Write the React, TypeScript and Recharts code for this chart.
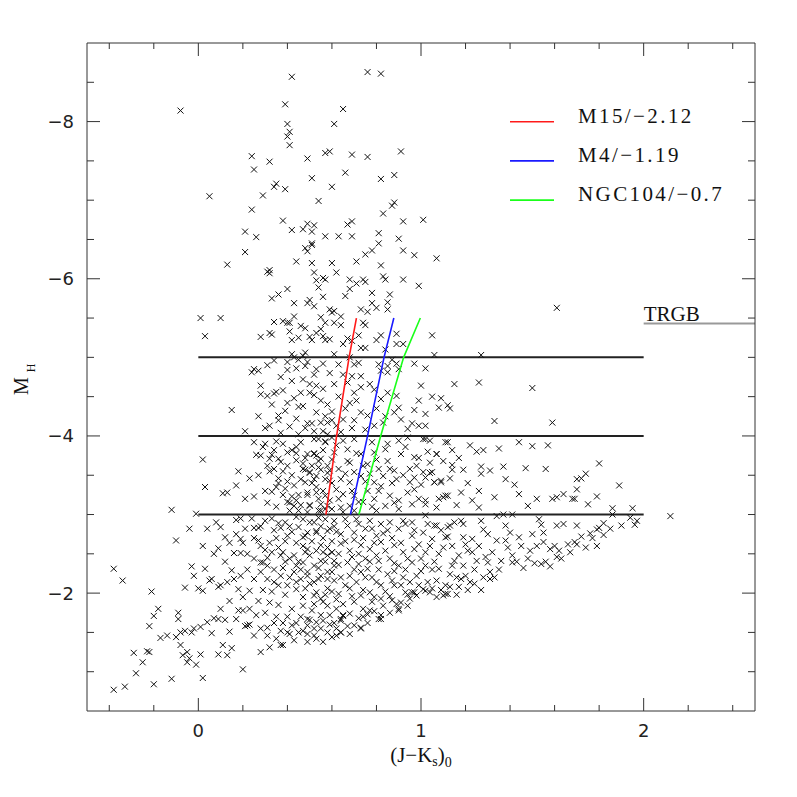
import { ScatterChart, Scatter, XAxis, YAxis, ReferenceLine } from "recharts";

// colour-magnitude data, [ (J-Ks)0 , M_H ]
const upperStars: [number, number][] = [
  [0.42,-8.57],[0.39,-8.22],[-0.08,-8.14],[0.40,-7.97],[0.41,-7.87],[0.40,-7.81],[0.41,-7.70],[0.61,-7.97],[0.24,-7.56],[0.32,-7.49],
  [0.49,-7.53],[0.25,-7.39],[0.57,-7.60],[0.59,-7.62],[0.51,-7.28],[0.05,-7.05],[0.29,-7.06],[0.34,-7.17],[0.35,-7.21],[0.39,-7.14],
  [0.60,-7.17],[0.54,-6.99],[0.24,-6.88],[0.38,-6.74],[0.42,-6.62],[0.47,-6.63],[0.49,-6.70],[0.51,-6.60],[0.52,-6.68],[0.57,-6.54],
  [0.21,-6.60],[0.26,-6.53],[0.21,-6.34],[0.13,-6.18],[0.48,-6.39],[0.49,-6.35],[0.51,-6.43],[0.51,-6.45],[0.44,-6.22],[0.51,-6.20],
  [0.60,-6.20],[0.31,-6.09],[0.32,-6.11],[0.32,-6.07],[0.52,-6.08],[0.53,-5.98],[0.56,-6.01],[0.57,-5.99],[0.54,-5.89],[0.40,-5.87],
  [0.33,-5.75],[0.36,-5.80],[0.43,-5.69],[0.49,-5.69],[0.50,-5.73],[0.52,-5.65],[0.56,-5.77],[0.59,-5.61],[0.61,-5.59],[0.60,-5.57],
  [0.01,-5.50],[0.10,-5.50],[0.03,-5.27],[0.34,-5.45],[0.38,-5.46],[0.40,-5.44],[0.41,-5.44],[0.43,-5.52],[0.46,-5.40],[0.48,-5.37],
  [0.55,-5.51],[0.57,-5.44],[0.61,-5.44],[0.28,-5.26],[0.32,-5.31],[0.33,-5.29],[0.41,-5.33],[0.42,-5.22],[0.45,-5.25],[0.50,-5.26],
  [0.51,-5.22],[0.53,-5.31],[0.55,-5.36],[0.56,-5.27],[0.57,-5.22],[0.59,-5.23],[0.61,-5.04],[0.42,-5.04],[0.43,-5.00],[0.45,-4.97],
  [0.47,-5.02],[0.48,-5.06],
  [0.76,-8.63],[0.82,-8.61],[0.65,-8.16],[0.69,-7.58],[0.76,-7.55],[0.91,-7.62],[0.66,-7.35],[0.82,-7.27],[0.88,-7.32],[0.88,-6.97],
  [0.87,-6.93],[0.83,-6.83],[0.67,-6.69],[0.69,-6.73],[0.92,-6.73],[1.01,-6.75],[0.63,-6.54],[0.69,-6.54],[0.81,-6.58],[0.90,-6.51],
  [0.81,-6.45],[0.78,-6.36],[0.75,-6.31],[0.71,-6.22],[0.92,-6.36],[0.97,-6.30],[1.07,-6.26],[0.62,-6.08],[0.82,-6.17],[0.83,-6.03],
  [0.84,-5.99],[0.68,-5.99],[0.71,-5.94],[0.74,-5.99],[0.75,-5.96],[0.68,-5.87],[0.92,-5.99],[0.99,-5.91],[0.66,-5.78],[0.78,-5.82],
  [0.86,-5.80],[0.64,-5.52],[0.64,-5.41],[0.73,-5.61],[0.76,-5.58],[0.78,-5.69],[0.80,-5.63],[0.85,-5.61],[0.85,-5.70],[0.74,-5.44],
  [0.75,-5.41],[0.67,-5.24],[0.65,-5.17],[0.72,-5.28],[0.69,-5.21],[0.73,-5.12],[0.75,-5.12],[0.82,-5.28],[0.80,-5.22],[0.84,-5.10],
  [0.89,-5.30],[0.89,-5.17],[0.92,-5.17],[1.05,-5.28],[0.68,-5.00],[1.06,-5.03],[1.27,-5.03],[1.61,-5.63],
];

const agbStars: [number, number][] = [
  [0.34,-4.96],[0.40,-4.94],[0.49,-4.94],[0.48,-4.89],[0.24,-4.81],[0.25,-4.85],[0.27,-4.83],[0.40,-4.84],[0.52,-4.78],[0.53,-4.85],
  [0.63,-4.91],[0.70,-4.91],[0.72,-4.93],[0.81,-4.91],[0.82,-4.83],[0.85,-4.89],[0.87,-4.97],[0.89,-4.92],[0.97,-4.92],[1.02,-4.86],
  [0.90,-4.85],[0.65,-4.78],[0.69,-4.76],[0.73,-4.76],[0.85,-4.81],
  [0.28,-4.64],[0.28,-4.53],[0.31,-4.51],[0.34,-4.54],[0.35,-4.56],[0.50,-4.66],[0.53,-4.64],[0.50,-4.55],[0.55,-4.45],[0.45,-4.37],
  [0.60,-4.31],[0.15,-4.33],[0.36,-4.26],[0.36,-4.20],[0.32,-4.13],[0.37,-4.04],[0.21,-4.06],[0.49,-4.16],[0.51,-4.16],[0.55,-4.17],
  [0.58,-4.17],[0.60,-4.20],[0.52,-4.06],[0.56,-4.06],
  [1.00,-4.64],[1.15,-4.66],[1.26,-4.68],[1.50,-4.61],[1.33,-4.19],[1.59,-4.17],[1.05,-4.50],[1.09,-4.48],[1.12,-4.39],[1.13,-4.35],
  [1.08,-4.36],[0.99,-4.45],[1.02,-4.28],[0.97,-4.33],[0.99,-4.13],[0.96,-4.16],[1.02,-4.13],
  [0.61,-4.66],[0.67,-4.68],[0.70,-4.55],[0.73,-4.62],[0.77,-4.66],[0.79,-4.59],[0.82,-4.47],[0.85,-4.55],[0.89,-4.51],[0.90,-4.36],
  [0.88,-4.30],[0.68,-4.42],[0.73,-4.30],[0.76,-4.26],[0.79,-4.13],[0.65,-4.21],[0.62,-4.13],[0.83,-4.17],[0.91,-4.21],[0.94,-4.09],
  [0.42,-4.70],[0.46,-4.55],[0.40,-4.42],[0.56,-4.60],[0.58,-4.40],[0.44,-4.22],[0.53,-4.30],[0.48,-4.10],[0.38,-4.58],
  [0.31,-4.90],[0.37,-4.75],[0.44,-4.86],[0.47,-4.72],[0.56,-4.92],[0.59,-4.80],[0.33,-4.40],[0.39,-4.32],[0.43,-4.48],[0.47,-4.38],
  [0.52,-4.52],[0.57,-4.25],[0.63,-4.50],[0.66,-4.35],[0.70,-4.20],[0.71,-4.45],[0.64,-4.05],[0.69,-4.10],[0.75,-4.08],[0.80,-4.35],
  [0.84,-4.25],[0.27,-4.25],[0.30,-4.10],[0.41,-4.12],[0.45,-4.02],[0.58,-4.02],
];

const midStars: [number, number][] = [
  [0.25,-3.92],[0.35,-3.93],[0.38,-3.90],[0.42,-3.82],[0.44,-3.86],[0.40,-3.79],[0.54,-3.96],[0.57,-3.93],[0.60,-3.98],[0.02,-3.70],
  [0.26,-3.76],[0.28,-3.75],[0.33,-3.76],[0.32,-3.71],[0.36,-3.71],[0.31,-3.62],[0.37,-3.67],[0.40,-3.62],[0.44,-3.69],[0.48,-3.72],
  [0.52,-3.78],[0.53,-3.75],[0.56,-3.82],[0.54,-3.68],[0.48,-3.57],[0.50,-3.53],[0.53,-3.49],[0.55,-3.57],[0.58,-3.53],[0.51,-3.40],
  [0.57,-3.45],[0.60,-3.40],[0.03,-3.35],[0.11,-3.27],[0.13,-3.28],[0.17,-3.37],[0.23,-3.46],[0.25,-3.23],[0.33,-3.29],[0.35,-3.35],
  [0.36,-3.46],[0.40,-3.42],[0.43,-3.37],[0.45,-3.25],[0.49,-3.25],[0.42,-3.23],[0.31,-3.15],[0.35,-3.10],[0.40,-3.16],[0.41,-3.15],
  [0.43,-3.11],[0.46,-3.12],[0.50,-3.12],[0.54,-3.20],[0.58,-3.11],[0.55,-3.05],[0.60,-3.07],[-0.12,-3.06],[-0.01,-3.01],
  [0.94,-3.98],[1.02,-3.96],[1.04,-3.94],[1.12,-3.92],[1.25,-3.80],[1.28,-3.82],[1.35,-3.84],[1.44,-3.92],[1.50,-3.87],[1.57,-3.88],
  [1.14,-3.82],[1.07,-3.77],[0.99,-3.72],[1.17,-3.72],[1.04,-3.66],[1.14,-3.63],[1.27,-3.61],[1.37,-3.61],[1.47,-3.59],[1.56,-3.58],
  [1.14,-3.57],[1.19,-3.57],[1.27,-3.52],[1.38,-3.45],[1.04,-3.53],[1.02,-3.47],[1.06,-3.41],[1.09,-3.43],[1.12,-3.24],[1.10,-3.22],
  [1.18,-3.28],[1.26,-3.30],[1.26,-3.09],[1.44,-3.26],[1.52,-3.20],[1.48,-3.11],[1.59,-3.20],[1.61,-3.22],[1.64,-3.26],[1.69,-3.20],
  [1.70,-3.32],[1.70,-3.45],[1.02,-3.13],[1.07,-3.09],
  [1.80,-3.65],[1.72,-3.46],[1.74,-3.52],[1.89,-3.37],[1.68,-3.20],[1.75,-3.13],[1.79,-3.23],[1.86,-3.08],[1.95,-3.08],
  [0.52,-3.96],[0.57,-3.92],[0.65,-3.94],[0.70,-3.96],[0.78,-3.92],[0.85,-3.90],[0.90,-3.94],[1.01,-3.96],[1.11,-3.92],[0.49,-3.77],
  [0.52,-3.77],[0.55,-3.71],[0.61,-3.79],[0.67,-3.83],[0.73,-3.77],[0.79,-3.79],[0.85,-3.68],[0.91,-3.77],[0.97,-3.73],[1.07,-3.77],
  [1.10,-3.68],[0.47,-3.58],[0.50,-3.54],[0.54,-3.60],[0.58,-3.62],[0.63,-3.58],[0.68,-3.66],[0.70,-3.54],[0.76,-3.64],[0.81,-3.58],
  [0.88,-3.56],[0.95,-3.58],[1.01,-3.54],[1.05,-3.54],[0.48,-3.41],[0.52,-3.45],[0.59,-3.43],[0.64,-3.45],[0.68,-3.41],[0.73,-3.49],
  [0.79,-3.41],[0.83,-3.49],[0.89,-3.45],[0.95,-3.41],[0.97,-3.47],[1.06,-3.41],[1.09,-3.41],[0.49,-3.28],[0.53,-3.28],[0.57,-3.24],
  [0.62,-3.32],[0.65,-3.26],[0.70,-3.24],[0.76,-3.30],[0.81,-3.30],[0.86,-3.24],[0.90,-3.18],[0.97,-3.32],[1.02,-3.18],[1.08,-3.20],
  [1.11,-3.24],[0.50,-3.11],[0.55,-3.13],[0.59,-3.18],[0.64,-3.09],[0.68,-3.11],[0.74,-3.16],[0.79,-3.20],[0.84,-3.11],[0.90,-3.07],
  [0.96,-3.13],[0.49,-3.03],[0.54,-3.05],[0.57,-3.07],[0.65,-3.03],[0.70,-3.05],[0.80,-3.05],
  [0.30,-3.90],[0.34,-3.82],[0.38,-3.55],[0.42,-3.50],[0.46,-3.45],[0.44,-3.78],[0.34,-3.58],[0.30,-3.30],[0.38,-3.25],[0.45,-3.05],
  [0.29,-3.86],[0.32,-3.55],[0.36,-3.40],[0.39,-3.33],[0.41,-3.05],[0.44,-3.18],[0.46,-3.92],[0.47,-3.65],[0.51,-3.62],[0.53,-3.35],
  [0.56,-3.30],[0.59,-3.56],[0.60,-3.70],[0.62,-3.88],[0.63,-3.20],[0.66,-3.52],[0.67,-3.68],[0.69,-3.30],[0.71,-3.78],[0.72,-3.16],
  [0.74,-3.62],[0.75,-3.42],[0.77,-3.52],[0.78,-3.10],[0.80,-3.70],[0.82,-3.36],[0.84,-3.83],[0.86,-3.58],[0.87,-3.40],[0.88,-3.15],
  [0.92,-3.50],[0.93,-3.86],[0.94,-3.28],[0.98,-3.62],[0.99,-3.20],[1.00,-3.38],[1.03,-3.80],[1.13,-3.46],[1.16,-3.12],[1.21,-3.40],
  [1.23,-3.18],[1.31,-3.56],[1.33,-3.22],[1.42,-3.38],[1.22,-3.88],[0.27,-3.50],[0.21,-3.20],[0.18,-3.55],
];

const lowerStars: [number, number][] = [
  [-0.04,-2.82],[0.04,-2.82],[0.10,-2.84],[0.17,-2.93],[0.19,-2.95],[0.21,-2.82],[0.25,-2.83],[0.27,-2.83],[0.28,-2.85],[0.36,-2.89],
  [0.37,-2.83],[0.41,-2.85],[-0.10,-2.67],[0.09,-2.57],[0.12,-2.71],[0.14,-2.64],[0.19,-2.69],[0.20,-2.64],[0.27,-2.67],[0.28,-2.60],
  [0.32,-2.64],[0.40,-2.73],[0.44,-2.64],[0.47,-2.71],[0.49,-2.77],[0.53,-2.79],[0.55,-2.85],[0.58,-2.79],[0.61,-2.85],[0.16,-2.51],
  [0.19,-2.51],[0.22,-2.50],[0.25,-2.44],[0.28,-2.39],[0.33,-2.52],[0.37,-2.48],[0.38,-2.52],[0.41,-2.44],[0.44,-2.35],[0.48,-2.52],
  [0.50,-2.48],[0.53,-2.54],[0.56,-2.52],[0.60,-2.52],[0.55,-2.41],[0.61,-2.35],[-0.38,-2.31],[-0.34,-2.16],[-0.03,-2.34],[-0.02,-2.22],
  [0.03,-2.31],[0.06,-2.18],[0.05,-2.16],[0.09,-2.08],[0.10,-2.10],[0.13,-2.14],[0.15,-2.29],[0.16,-2.18],[0.19,-2.22],[0.23,-2.03],
  [0.25,-2.18],[0.28,-2.27],[0.29,-2.39],[0.31,-2.18],[0.34,-2.14],[0.37,-2.22],[0.40,-2.10],[0.43,-2.27],[0.46,-2.18],[0.49,-2.27],
  [0.52,-2.14],[0.55,-2.22],[0.58,-2.18],[0.60,-2.27],[0.53,-2.01],[0.55,-1.93],[0.58,-1.84],[-0.21,-2.02],[-0.18,-1.80],[-0.20,-1.71],
  [-0.22,-1.58],[-0.09,-1.75],[-0.09,-1.67],[-0.06,-2.07],[0.00,-2.06],[0.02,-2.03],[-0.17,-1.43],[-0.14,-1.46],[-0.10,-1.44],[-0.08,-1.50],
  [-0.06,-1.52],[-0.03,-1.50],[-0.02,-1.55],[0.01,-1.57],[0.04,-1.63],[0.06,-1.49],[0.07,-1.68],[0.09,-1.67],[0.10,-1.80],[0.12,-1.66],
  [0.14,-1.51],[0.17,-1.67],[0.18,-1.78],[0.20,-1.78],[0.21,-1.58],[0.22,-1.59],[0.23,-1.60],[0.25,-1.46],[0.28,-1.55],[0.31,-1.46],
  [0.35,-1.42],[0.37,-1.34],[0.40,-1.50],[0.42,-1.59],[0.45,-1.50],[0.49,-1.59],[0.52,-1.46],[0.55,-1.55],[0.60,-1.44],[0.49,-1.38],
  [0.38,-1.34],[0.28,-1.25],[0.32,-1.31],[-0.29,-1.24],[-0.23,-1.26],[-0.22,-1.25],[-0.25,-1.12],[-0.28,-0.98],[-0.33,-0.81],[-0.38,-0.77],
  [-0.20,-0.84],[-0.12,-0.91],[-0.08,-1.34],[-0.05,-1.25],[-0.07,-1.21],[-0.04,-1.17],[-0.01,-1.09],[0.01,-1.22],[-0.05,-1.12],[0.02,-0.92],
  [0.09,-1.22],[0.13,-1.21],[0.11,-1.34],[0.15,-1.30],[0.20,-1.03],
  [1.07,-2.86],[1.12,-2.84],[1.13,-2.86],[1.18,-2.92],[1.19,-2.88],[1.27,-2.92],[1.28,-2.81],[1.34,-2.98],[1.37,-3.00],[1.41,-3.00],
  [1.38,-2.86],[1.40,-2.77],[1.53,-2.94],[1.54,-2.87],[1.55,-2.77],[1.50,-2.75],[1.61,-2.86],[1.64,-2.88],[1.70,-2.86],[1.12,-2.72],
  [1.19,-2.71],[1.23,-2.69],[1.30,-2.75],[1.34,-2.67],[1.38,-2.67],[1.44,-2.71],[1.45,-2.60],[1.49,-2.54],[1.52,-2.60],[1.55,-2.65],
  [1.58,-2.56],[1.60,-2.60],[1.62,-2.54],[1.61,-2.46],[1.67,-2.52],[1.69,-2.65],[1.54,-2.37],[1.56,-2.40],[1.41,-2.48],[1.41,-2.39],
  [1.36,-2.41],[1.30,-2.39],[1.29,-2.46],[1.31,-2.27],[1.25,-2.41],[1.23,-2.52],[1.21,-2.54],[1.17,-2.48],[1.15,-2.41],[1.14,-2.35],
  [1.19,-2.35],[1.20,-2.22],[1.18,-2.18],[1.22,-2.14],[1.17,-2.08],[1.13,-2.08],[1.10,-1.97],[1.07,-1.95],[1.12,-1.99],[1.04,-2.01],
  [1.01,-2.05],[0.98,-1.97],[0.95,-1.93],[0.96,-2.01],[0.94,-1.84],[0.90,-1.80],[0.91,-1.88],[0.86,-1.75],[0.81,-1.67],[0.79,-1.77],
  [0.76,-1.73],[0.74,-1.70],[0.73,-1.56],[0.70,-1.59],[0.64,-1.50],[0.62,-1.46],[0.64,-1.67],[0.65,-1.71],[1.31,-2.18],[1.33,-2.20],
  [1.72,-2.72],[1.76,-2.76],[1.79,-2.81],[1.80,-2.83],[1.82,-2.89],[1.82,-2.74],[1.79,-2.60],[1.94,-2.96],[1.97,-2.92],[1.96,-2.87],
  [2.12,-2.98],[1.70,-2.62],
  [0.47,-2.94],[0.52,-2.90],[0.57,-2.94],[0.61,-2.92],[0.67,-2.86],[0.71,-2.94],[0.77,-2.92],[0.82,-2.88],[0.86,-2.90],[0.92,-2.92],
  [0.96,-2.90],[1.02,-2.99],[1.06,-2.86],[1.11,-2.71],[0.48,-2.73],[0.53,-2.77],[0.59,-2.82],[0.64,-2.75],[0.70,-2.77],[0.75,-2.82],
  [0.80,-2.73],[0.85,-2.80],[0.90,-2.82],[0.96,-2.73],[1.01,-2.77],[1.05,-2.69],[0.49,-2.56],[0.55,-2.61],[0.60,-2.52],[0.64,-2.63],
  [0.68,-2.54],[0.73,-2.61],[0.77,-2.56],[0.82,-2.65],[0.88,-2.61],[0.92,-2.52],[0.97,-2.56],[1.02,-2.52],[1.08,-2.50],[0.47,-2.39],
  [0.52,-2.35],[0.58,-2.48],[0.61,-2.41],[0.67,-2.39],[0.72,-2.37],[0.76,-2.31],[0.81,-2.41],[0.86,-2.44],[0.90,-2.35],[0.96,-2.39],
  [1.02,-2.35],[0.49,-2.22],[0.54,-2.18],[0.58,-2.27],[0.64,-2.20],[0.68,-2.22],[0.73,-2.27],[0.78,-2.20],[0.82,-2.10],[0.87,-2.16],
  [0.92,-2.20],[0.98,-2.22],[1.08,-2.31],[1.11,-2.10],[0.48,-2.06],[0.52,-1.97],[0.58,-2.06],[0.63,-1.99],[0.68,-2.06],[0.73,-1.97],
  [0.77,-2.01],[0.82,-1.93],[0.88,-2.10],[0.93,-2.01],[0.97,-2.01],[1.02,-2.03],[1.05,-2.06],[1.11,-1.99],[0.47,-1.84],[0.52,-1.86],
  [0.56,-1.89],[0.62,-1.80],[0.65,-1.72],[0.70,-1.89],[0.74,-1.80],[0.78,-1.89],[0.82,-1.67],[0.87,-1.91],[0.90,-1.78],[0.49,-1.67],
  [0.53,-1.63],[0.59,-1.72],[0.64,-1.65],[0.68,-1.74],[0.73,-1.55],[0.77,-1.78],[0.82,-1.72],[0.52,-1.55],[0.56,-1.65],[0.64,-1.50],
  [0.49,-1.48],[0.62,-1.55],
  [0.33,-2.95],[0.39,-2.90],[0.44,-2.97],[0.35,-2.70],[0.42,-2.78],[0.30,-2.55],[0.36,-2.58],[0.43,-2.48],[0.31,-2.35],[0.38,-2.32],
  [0.45,-2.40],[0.33,-2.02],[0.39,-1.98],[0.44,-2.05],[0.36,-1.85],[0.42,-1.80],[0.30,-1.75],[0.46,-1.70],[0.34,-1.62],[0.40,-1.70],
  [0.27,-1.90],[0.25,-2.70],[0.22,-2.30],[0.20,-1.95],[0.26,-1.72],[0.43,-1.40],[0.56,-1.38],
];

// faint, crowded core of the red giant branch
const coreStars: [number, number][] = [
  [0.30,-2.92],[0.34,-2.80],[0.39,-2.66],[0.45,-2.84],[0.47,-2.60],[0.50,-2.90],[0.51,-2.66],[0.54,-2.96],[0.56,-2.70],[0.58,-2.58],
  [0.60,-2.66],[0.62,-2.78],[0.63,-2.50],[0.66,-2.94],[0.66,-2.66],[0.69,-2.46],[0.70,-2.68],[0.72,-2.88],[0.72,-2.50],[0.74,-2.70],
  [0.75,-2.44],[0.78,-2.82],[0.79,-2.64],[0.80,-2.48],[0.83,-2.76],[0.84,-2.54],[0.87,-2.70],[0.88,-2.38],[0.91,-2.64],[0.93,-2.88],
  [0.94,-2.44],[0.97,-2.80],[0.99,-2.62],[1.00,-2.44],[1.03,-2.88],[1.04,-2.60],[1.06,-2.40],[1.09,-2.80],[1.10,-2.58],[1.14,-2.60],
  [1.15,-2.90],[1.16,-2.20],[1.20,-2.62],[1.24,-2.30],[1.26,-2.60],[1.28,-2.20],[1.32,-2.52],[1.35,-2.30],[1.39,-2.58],[1.43,-2.40],
  [1.46,-2.32],[1.48,-2.44],[1.51,-2.38],[1.58,-2.34],[1.63,-2.44],[1.66,-2.62],[1.74,-2.58],[1.77,-2.70],[1.85,-2.82],[1.90,-2.86],
  [1.86,-3.00],[0.31,-2.45],[0.34,-2.30],[0.36,-2.10],[0.39,-2.40],[0.41,-2.20],[0.44,-2.14],[0.46,-2.30],[0.47,-1.95],[0.50,-2.12],
  [0.51,-1.78],[0.54,-2.32],[0.55,-1.72],[0.57,-2.40],[0.57,-1.98],[0.59,-1.60],[0.60,-2.02],[0.61,-2.16],[0.62,-1.92],[0.63,-2.36],
  [0.65,-1.86],[0.66,-2.10],[0.67,-1.58],[0.69,-1.96],[0.70,-2.30],[0.71,-2.14],[0.72,-1.68],[0.74,-2.04],[0.75,-2.20],[0.76,-1.62],
  [0.77,-2.40],[0.79,-1.95],[0.80,-2.14],[0.81,-2.30],[0.83,-1.84],[0.84,-2.02],[0.85,-2.24],[0.86,-1.96],[0.88,-2.28],[0.89,-1.86],
  [0.91,-2.10],[0.93,-2.30],[0.94,-1.98],[0.95,-2.14],[0.99,-2.10],[1.00,-2.28],[1.03,-2.14],[1.05,-2.30],[1.07,-2.16],[1.09,-2.04],
  [1.13,-2.24],[1.16,-1.98],[1.21,-2.04],[1.24,-2.12],[1.27,-2.04],[0.29,-2.04],[0.32,-1.88],[0.35,-1.70],[0.38,-1.62],[0.41,-1.48],
  [0.44,-1.62],[0.47,-1.52],[0.50,-1.66],[0.53,-1.42],[0.58,-1.50],[0.61,-1.62],[0.68,-1.48],[0.23,-1.80],[0.18,-2.05],[0.14,-1.90],
  [0.12,-2.40],[0.07,-2.50],[0.02,-2.60],[0.08,-2.90],[0.24,-2.95],[0.17,-2.75],[0.31,-1.56],[0.37,-1.52],
];

// isochrone ridge lines, [ colour , M_H ]
const m15Track: [number, number][] = [[0.573,-3],[0.621,-4],[0.677,-5],[0.71,-5.5]];
const m4Track: [number, number][] = [[0.683,-3],[0.76,-4],[0.834,-5],[0.878,-5.5]];
const ngc104Track: [number, number][] = [[0.721,-3],[0.819,-4],[0.922,-5],[0.997,-5.5]];
const trackNames = ["M15/\u22122.12", "M4/\u22121.19", "NGC104/\u22120.7"];
const trackColors = ["#ff1a1a", "#1a1aff", "#1aff1a"];

const cutLevels = [-5, -4, -3];
const trgbLevel = -5.43;

const xTicks = [-0.4,-0.2,0,0.2,0.4,0.6,0.8,1,1.2,1.4,1.6,1.8,2,2.2,2.4];
const yTicks = [-8.5,-8,-7.5,-7,-6.5,-6,-5.5,-5,-4.5,-4,-3.5,-3,-2.5,-2,-1.5,-1];
const xLabelled = [0, 1, 2];
const yLabelled = [-8, -6, -4, -2];

const stars = [...upperStars, ...agbStars, ...midStars, ...lowerStars, ...coreStars].map(([jk, mh]) => ({ jk, mh }));
const tracks = [m15Track, m4Track, ngc104Track].map((t, i) => ({
  name: trackNames[i],
  color: trackColors[i],
  data: t.map(([jk, mh]) => ({ jk, mh })),
}));

const AXIS = "#333";
const numFont = "'DejaVu Sans', sans-serif";
const serif = "'Liberation Serif', serif";
const fmt = (v: number) => (v < 0 ? "\u2212" + Math.abs(v) : String(v));
const isIn = (list: number[], v: number) => list.some((l) => Math.abs(l - v) < 1e-6);

const Cross = (props: any) => {
  const { cx, cy } = props;
  if (cx == null || cy == null) return <g />;
  return (
    <path
      d={`M${cx - 3},${cy - 3}L${cx + 3},${cy + 3}M${cx - 3},${cy + 3}L${cx + 3},${cy - 3}`}
      stroke="#111"
      strokeWidth={1}
      fill="none"
    />
  );
};

const BottomTick = ({ x, y, payload }: any) => {
  const major = isIn(xLabelled, payload.value);
  return (
    <g>
      <line x1={x} y1={y} x2={x} y2={y - (major ? 13 : 6)} stroke={AXIS} />
      {major && (
        <text x={x} y={y + 26} textAnchor="middle" fontSize={18} fontFamily={numFont} fill="#222">
          {fmt(payload.value)}
        </text>
      )}
    </g>
  );
};

const TopTick = ({ x, y, payload }: any) => {
  const major = isIn(xLabelled, payload.value);
  return <line x1={x} y1={y} x2={x} y2={y + (major ? 13 : 6)} stroke={AXIS} />;
};

const LeftTick = ({ x, y, payload }: any) => {
  const major = isIn(yLabelled, payload.value);
  return (
    <g>
      <line x1={x} y1={y} x2={x + (major ? 13 : 7)} y2={y} stroke={AXIS} />
      {major && (
        <text x={x - 13} y={y} dy="0.36em" textAnchor="end" fontSize={18} fontFamily={numFont} fill="#222">
          {fmt(payload.value)}
        </text>
      )}
    </g>
  );
};

const RightTick = ({ x, y, payload }: any) => {
  const major = isIn(yLabelled, payload.value);
  return <line x1={x} y1={y} x2={x - (major ? 13 : 7)} y2={y} stroke={AXIS} />;
};

const XTitle = ({ viewBox }: any) => {
  const cx = viewBox.x + viewBox.width / 2;
  return (
    <text x={cx} y={viewBox.y + 51} textAnchor="middle" fontSize={21} fontFamily={serif} fill="#111">
      <tspan>(J{"\u2212"}K</tspan>
      <tspan fontSize={14} dy={4}>s</tspan>
      <tspan dy={-4}>)</tspan>
      <tspan fontSize={14} dy={5}>0</tspan>
    </text>
  );
};

const YTitle = ({ viewBox }: any) => {
  const cy = viewBox.y + viewBox.height / 2 + 9;
  const bx = 28;
  return (
    <g fontFamily={serif} fill="#111">
      <text x={bx} y={cy} transform={`rotate(-90 ${bx} ${cy})`} textAnchor="middle" fontSize={20}>M</text>
      <text x={bx + 7} y={cy - 18} transform={`rotate(-90 ${bx + 7} ${cy - 18})`} textAnchor="middle" fontSize={12}>H</text>
    </g>
  );
};

const TrgbLabel = ({ viewBox }: any) => (
  <text x={viewBox.x} y={viewBox.y - 3} fontSize={21} fontFamily={serif} fill="#111">TRGB</text>
);

const TrackLegend = () => (
  <g fontFamily={serif} fontSize={21} fill="#111">
    {tracks.map((t, i) => (
      <g key={t.name}>
        <line x1={510} x2={554} y1={121.7 + i * 39.2} y2={121.7 + i * 39.2} stroke={t.color} strokeWidth={1.6} />
        <text x={578} y={123 + i * 39.2} letterSpacing={2.4}>{t.name}</text>
      </g>
    ))}
  </g>
);

export default function App() {
  return (
    <div style={{ position: "absolute", left: 0, top: 0, width: 797, height: 797, background: "#fff" }}>
      <ScatterChart width={797} height={797} margin={{ top: 33, right: 32, bottom: 56, left: 27 }}>
        <XAxis
          xAxisId="b" type="number" dataKey="jk" domain={[-0.5, 2.5]} ticks={xTicks} interval={0}
          allowDataOverflow tickSize={0} tickMargin={0} tickLine={false} height={30}
          axisLine={{ stroke: AXIS }} tick={<BottomTick />} label={<XTitle />}
        />
        <XAxis
          xAxisId="t" orientation="top" type="number" dataKey="jk" domain={[-0.5, 2.5]} ticks={xTicks} interval={0}
          allowDataOverflow tickSize={0} tickMargin={0} tickLine={false} height={10}
          axisLine={{ stroke: AXIS }} tick={<TopTick />}
        />
        <YAxis
          yAxisId="l" type="number" dataKey="mh" domain={[-9, -0.5]} reversed ticks={yTicks} interval={0}
          allowDataOverflow tickSize={0} tickMargin={0} tickLine={false} width={60}
          axisLine={{ stroke: AXIS }} tick={<LeftTick />} label={<YTitle />}
        />
        <YAxis
          yAxisId="r" orientation="right" type="number" dataKey="mh" domain={[-9, -0.5]} reversed ticks={yTicks} interval={0}
          allowDataOverflow tickSize={0} tickMargin={0} tickLine={false} width={10}
          axisLine={{ stroke: AXIS }} tick={<RightTick />}
        />
        {cutLevels.map((m) => (
          <ReferenceLine
            key={m} xAxisId="b" yAxisId="l"
            segment={[{ x: 0, y: m }, { x: 2, y: m }]}
            stroke="#222" strokeWidth={2}
          />
        ))}
        <ReferenceLine
          xAxisId="b" yAxisId="l"
          segment={[{ x: 2, y: trgbLevel }, { x: 2.5, y: trgbLevel }]}
          stroke="#999" strokeWidth={2} label={<TrgbLabel />}
        />
        <Scatter
          xAxisId="b" yAxisId="l" data={stars} shape={<Cross />} isAnimationActive={false}
        />
        {tracks.map((t) => (
          <Scatter
            key={t.name} name={t.name} xAxisId="b" yAxisId="l" data={t.data}
            line={{ stroke: t.color, strokeWidth: 1.6 }} lineType="joint"
            shape={() => <g />} isAnimationActive={false}
          />
        ))}
        <TrackLegend />
      </ScatterChart>
    </div>
  );
}
